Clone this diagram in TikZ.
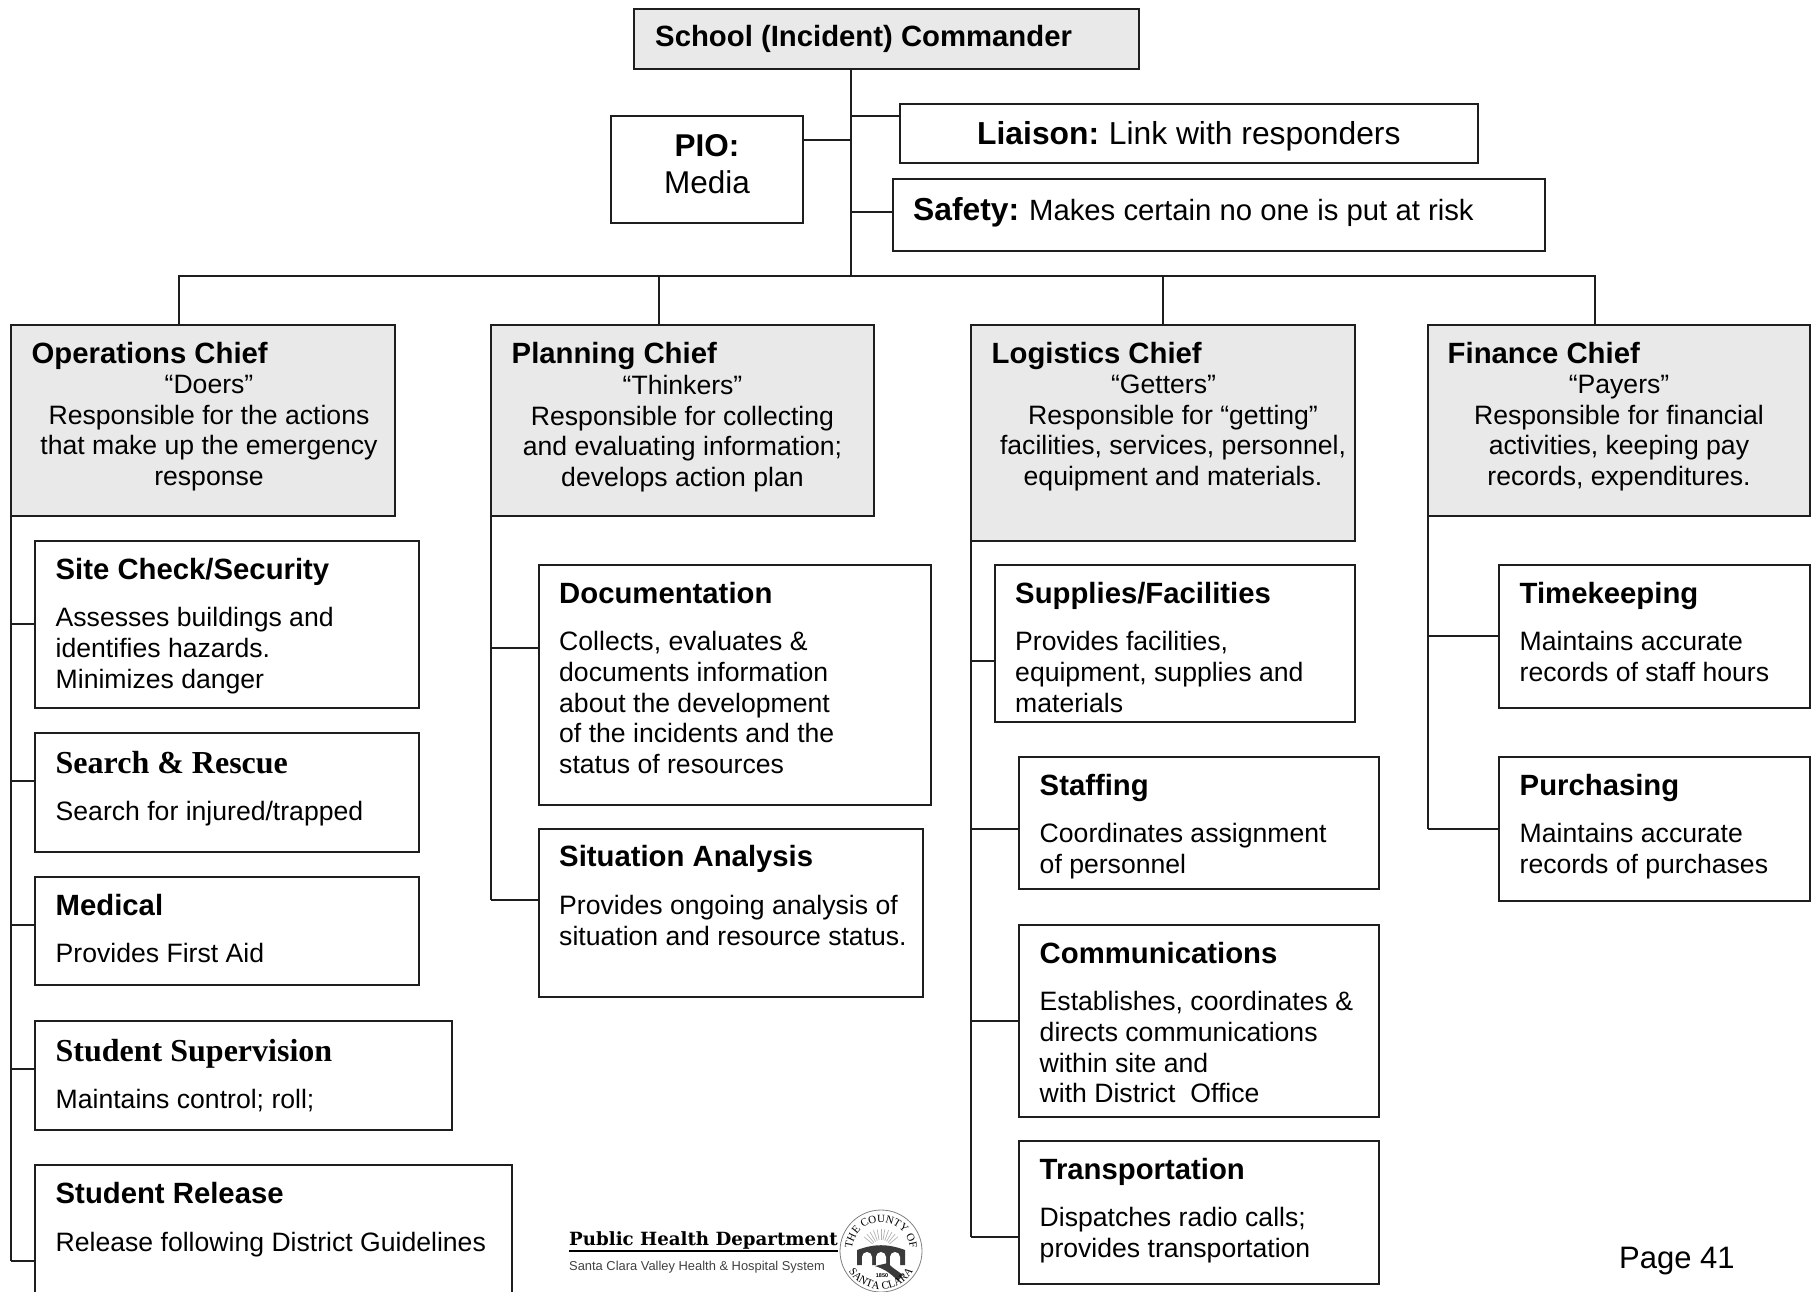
\documentclass[tikz,border=0pt]{standalone}
\usepackage{fontspec}
\setmainfont{Liberation Sans}
\newfontfamily\timesface{Liberation Serif}
\newfontfamily\logoface{DejaVu Serif}
\usepackage{xcolor}
\usetikzlibrary{decorations.text}
\definecolor{linedark}{HTML}{1E1E1E}
\definecolor{chiefgray}{HTML}{E9E9E9}
\definecolor{sealdark}{HTML}{3A3A3A}
\tikzset{
	unit/.style = {draw = linedark, line width = 1.9pt, anchor = north west, inner sep = 0pt, outer sep = 0pt},
	chief/.style = {unit, fill = chiefgray, minimum width = 384pt},
	head/.style = {anchor = base west, inner sep = 0pt, text = black, font = \fontsize{29.3}{34}\selectfont\bfseries},
	timeshead/.style = {head, font = \fontsize{32}{34}\selectfont\timesface\bfseries},
	note/.style = {anchor = north west, inner sep = 0pt, align = left, font = \fontsize{26.6}{30.6}\selectfont},
	chiefnote/.style = {note, anchor = north, align = center},
	link/.style = {draw = linedark, line width = 1.9pt},
}

\begin{document}
\begin{tikzpicture}[x = 1pt, y = -1pt]
	\useasboundingbox (0,0) rectangle (1811,1292);
	\clip (0,0) rectangle (1811,1292);

	\coordinate (trunk) at (851,276);

	\begin{scope}
		\node [chief, minimum width = 505pt, minimum height = 60pt] (commander) at (634,9) {};
		\node [head] (commanderhead) at ([shift = {(21,38)}]commander.north west) {School (Incident) Commander};
		\node [unit, minimum width = 192pt, minimum height = 107pt] (pio) at (611,116) {};
		\node [note, anchor = north, align = center, font = \fontsize{31.5}{37.5}\selectfont] (piotext) at ([shift = {(0,18)}]pio.north) {\textbf{PIO:}\\Media};
		\node [unit, minimum width = 578pt, minimum height = 59pt] (liaison) at (900,104) {};
		\node [note, anchor = base west, font = \fontsize{31.8}{36}\selectfont] (liaisontext) at ([shift = {(77,41)}]liaison.north west) {\textbf{Liaison:}\hspace{-2pt} Link with responders};
		\node [unit, minimum width = 652pt, minimum height = 72pt] (safety) at (893,179) {};
		\node [note, anchor = base west, font = \fontsize{29.3}{36}\selectfont] (safetytext) at ([shift = {(20,41)}]safety.north west) {\textbf{\fontsize{31.8}{36}\selectfont Safety:}\hspace{-1pt} Makes certain no one is put at risk};
	\end{scope}

	\begin{scope}
		\node [chief, minimum height = 191pt] (ops) at (11,325) {};
		\node [head] (opshead) at ([shift = {(20.5,38)}]ops.north west) {Operations Chief};
		\node [chiefnote] (opsnote) at ([shift = {(6,50)}]ops.north) {“Doers”\\Responsible for the actions\\that make up the emergency\\response};
		\node [chief, minimum width = 383pt, minimum height = 191pt] (plan) at (491,325) {};
		\node [head] (planhead) at ([shift = {(20.5,38)}]plan.north west) {Planning Chief};
		\node [chiefnote] (plannote) at ([shift = {(0,50)}]plan.north) {“Thinkers”\\Responsible for collecting\\and evaluating information;\\develops action plan};
		\node [chief, minimum height = 216pt] (logi) at (971,325) {};
		\node [head] (logihead) at ([shift = {(20.5,38)}]logi.north west) {Logistics Chief};
		\node [chiefnote] (loginote) at ([shift = {(10,50)}]logi.north) {“Getters”\hspace*{19pt}\\Responsible for “getting”\\facilities, services, personnel,\\equipment and materials.};
		\node [chief, minimum width = 382pt, minimum height = 191pt] (fin) at (1428,325) {};
		\node [head] (finhead) at ([shift = {(19.5,38)}]fin.north west) {Finance Chief};
		\node [chiefnote] (finnote) at ([shift = {(0,50)}]fin.north) {“Payers”\\Responsible for financial\\activities, keeping pay\\records, expenditures.};
	\end{scope}

	\begin{scope}
		\node [unit, minimum width = 384pt, minimum height = 167pt] (site) at (35,541) {};
		\node [head] (sitehead) at ([shift = {(20.5,38)}]site.north west) {Site Check/Security};
		\node [note] (sitenote) at ([shift = {(20.5,66.5)}]site.north west) {Assesses buildings and\\identifies hazards.\\Minimizes danger};
		\node [unit, minimum width = 384pt, minimum height = 119pt] (search) at (35,733) {};
		\node [timeshead] (searchhead) at ([shift = {(20.5,40)}]search.north west) {Search \& Rescue};
		\node [note] (searchnote) at ([shift = {(20.5,68)}]search.north west) {Search for injured/trapped};
		\node [unit, minimum width = 384pt, minimum height = 108pt] (medical) at (35,877) {};
		\node [head] (medicalhead) at ([shift = {(20.5,38)}]medical.north west) {Medical};
		\node [note] (medicalnote) at ([shift = {(20.5,66)}]medical.north west) {Provides First Aid};
		\node [unit, minimum width = 417pt, minimum height = 109pt] (supervision) at (35,1021) {};
		\node [timeshead] (supervisionhead) at ([shift = {(20.5,40)}]supervision.north west) {Student Supervision};
		\node [note] (supervisionnote) at ([shift = {(20.5,68)}]supervision.north west) {Maintains control; roll;};
		\node [unit, minimum width = 477pt, minimum height = 150pt] (release) at (35,1165) {};
		\node [head] (releasehead) at ([shift = {(20.5,38.5)}]release.north west) {Student Release};
		\node [note] (releasenote) at ([shift = {(20.5,67)}]release.north west) {Release following District Guidelines};
	\end{scope}

	\begin{scope}
		\node [unit, minimum width = 392pt, minimum height = 240pt] (docs) at (539,565) {};
		\node [head] (docshead) at ([shift = {(20,38)}]docs.north west) {Documentation};
		\node [note] (docsnote) at ([shift = {(20,66.5)}]docs.north west) {Collects, evaluates \&\\documents information\\about the development\\of the incidents and the\\status of resources};
		\node [unit, minimum width = 384pt, minimum height = 168pt] (situation) at (539,829) {};
		\node [head] (situationhead) at ([shift = {(20,37.5)}]situation.north west) {Situation Analysis};
		\node [note] (situationnote) at ([shift = {(20,66)}]situation.north west) {Provides ongoing analysis of\\situation and resource status.};
	\end{scope}

	\begin{scope}
		\node [unit, minimum width = 360pt, minimum height = 157pt] (supplies) at (995,565) {};
		\node [head] (supplieshead) at ([shift = {(20,38)}]supplies.north west) {Supplies/Facilities};
		\node [note] (suppliesnote) at ([shift = {(20,66.5)}]supplies.north west) {Provides facilities,\\equipment, supplies and\\materials};
		\node [unit, minimum width = 360pt, minimum height = 132pt] (staffing) at (1019,757) {};
		\node [head] (staffinghead) at ([shift = {(20.5,38)}]staffing.north west) {Staffing};
		\node [note] (staffingnote) at ([shift = {(20.5,66.5)}]staffing.north west) {Coordinates assignment\\of personnel};
		\node [unit, minimum width = 360pt, minimum height = 192pt] (comms) at (1019,925) {};
		\node [head] (commshead) at ([shift = {(20.5,38)}]comms.north west) {Communications};
		\node [note] (commsnote) at ([shift = {(20.5,66.5)}]comms.north west) {Establishes, coordinates \&\\directs communications\\within site and\\with District\ \ Office};
		\node [unit, minimum width = 360pt, minimum height = 143pt] (transport) at (1019,1141) {};
		\node [head] (transporthead) at ([shift = {(20.5,38)}]transport.north west) {Transportation};
		\node [note] (transportnote) at ([shift = {(20.5,66.5)}]transport.north west) {Dispatches radio calls;\\provides transportation};
	\end{scope}

	\begin{scope}
		\node [unit, minimum width = 311pt, minimum height = 143pt] (time) at (1499,565) {};
		\node [head] (timehead) at ([shift = {(20.5,38)}]time.north west) {Timekeeping};
		\node [note] (timenote) at ([shift = {(20.5,66.5)}]time.north west) {Maintains accurate\\records of staff hours};
		\node [unit, minimum width = 311pt, minimum height = 144pt] (purchase) at (1499,757) {};
		\node [head] (purchasehead) at ([shift = {(20.5,38)}]purchase.north west) {Purchasing};
		\node [note] (purchasenote) at ([shift = {(20.5,66.5)}]purchase.north west) {Maintains accurate\\records of purchases};
	\end{scope}

	\begin{scope}[link]
		\coordinate (opsdrop) at ([xshift = -24pt]ops.north |- trunk);
		\coordinate (plandrop) at ([xshift = -23.5pt]plan.north |- trunk);
		\coordinate (logidrop) at (logi.north |- trunk);
		\coordinate (findrop) at ([xshift = -24pt]fin.north |- trunk);
		\draw (trunk |- commander.south) -- (trunk);
		\draw (pio.east |- 0,140) -- (trunk |- 0,140);
		\draw (trunk |- 0,116) -- (liaison.west |- 0,116);
		\draw (trunk |- 0,212) -- (safety.west |- 0,212);
		\draw (opsdrop |- ops.north) -- (opsdrop) -- (findrop) -- (findrop |- fin.north);
		\draw (plandrop) -- (plandrop |- plan.north);
		\draw (logidrop) -- (logi.north);
		\draw (ops.south west) -- (ops.south west |- 0,1261);
		\draw (plan.south west) -- (plan.south west |- 0,900);
		\draw (logi.south west) -- (logi.south west |- 0,1237);
		\draw (fin.south west) -- (fin.south west |- 0,829);
		\foreach \unitname/\ypos in {site/624, search/781, medical/925, supervision/1069, release/1261}
			\draw (ops.south west |- 0,\ypos) -- (\unitname.west |- 0,\ypos);
		\foreach \unitname/\ypos in {docs/648, situation/900}
			\draw (plan.south west |- 0,\ypos) -- (\unitname.west |- 0,\ypos);
		\foreach \unitname/\ypos in {supplies/661, staffing/829, comms/1021, transport/1237}
			\draw (logi.south west |- 0,\ypos) -- (\unitname.west |- 0,\ypos);
		\foreach \unitname/\ypos in {time/636, purchase/829}
			\draw (fin.south west |- 0,\ypos) -- (\unitname.west |- 0,\ypos);
	\end{scope}

	\node [anchor = base west, inner sep = 0pt, font = \fontsize{31}{34}\selectfont] (pagenumber) at (1619,1268) {Page 41};

	\begin{scope}
		\node [anchor = base west, inner sep = 0pt, font = \fontsize{18.2}{20}\selectfont\logoface\bfseries] (logohead) at (569,1245) {Public Health Department};
		\node [anchor = base west, inner sep = 0pt, text = black!75, font = \fontsize{12.9}{14}\selectfont] (logonote) at (569,1270) {Santa Clara Valley Health \& Hospital System};
		\draw [line width = 2.2pt] (logohead.base west |- 0,1251) -- (logohead.base east |- 0,1251);
	\end{scope}

	\begin{scope}[shift = {(881,1251)}, x = 1pt, y = 1pt]
		\draw [gray, line width = 0.8pt] (0,0) circle (41);
		\foreach \rayangle in {40,50,...,140}
			\draw [gray!60, line width = 0.7pt] (\rayangle:11) -- (\rayangle:22);
		\fill [sealdark] (-24,-14) -- (-24,1) to [bend left = 20] (24,1) -- (24,-14) -- cycle;
		\foreach \archx in {-14,0,14}
			\fill [white] (\archx-5,-15) -- (\archx-5,-6) arc (180:0:5) -- (\archx+5,-15) -- cycle;
		\fill [sealdark] (-6,-15) .. controls (0,-17) and (8,-20) .. (17,-30) -- (22,-24) .. controls (14,-18) and (10,-16) .. (7,-12) -- cycle;
		\node [inner sep = 0pt, font = \fontsize{5.5}{6}\selectfont\bfseries] (sealyear) at (1,-25) {1850};
		\path [decorate, decoration = {text along path, text align = center, text = {|\fontsize{11}{12}\selectfont\timesface|THE COUNTY OF}}] (180:29) arc (180:0:29);
		\path [decorate, decoration = {text along path, text align = center, text = {|\fontsize{11}{12}\selectfont\timesface|SANTA CLARA}}] (205:38) arc (205:335:38);
	\end{scope}
\end{tikzpicture}
\end{document}
